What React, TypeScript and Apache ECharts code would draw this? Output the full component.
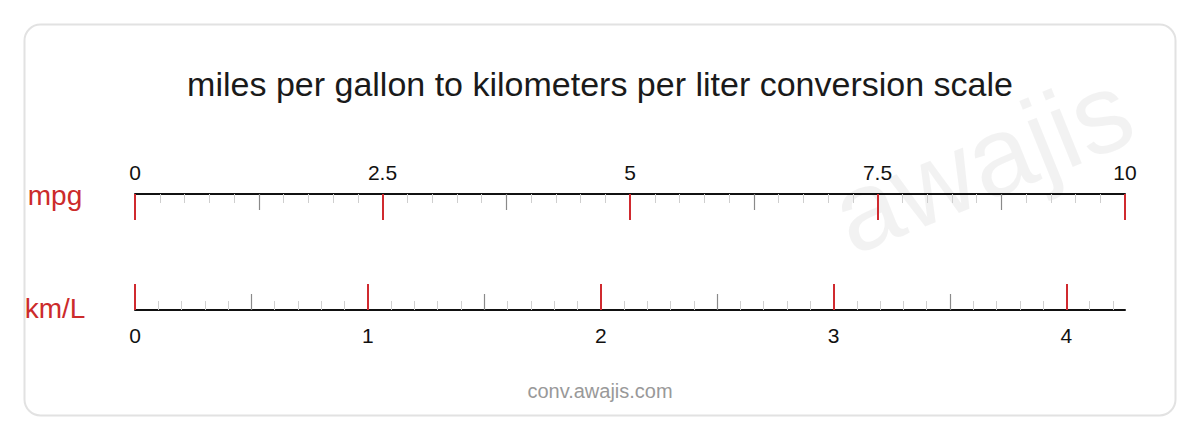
import { useEffect, useRef } from "react";
import * as echarts from "echarts";

const MPG_MAX = 10;
const MPG_TO_KML = 0.425144;
const MPG_MAJOR = [0, 2.5, 5, 7.5, 10];
const MPG_MID = [1.25, 3.75, 6.25, 8.75];
const MPG_MINOR_STEP = 0.25;
const KML_MAJOR = [0, 1, 2, 3, 4];
const KML_MID = [0.5, 1.5, 2.5, 3.5];
const KML_MINOR_STEP = 0.1;
const UNIT_LABELS = ["mpg", "km/L"];
const TITLE = "miles per gallon to kilometers per liter conversion scale";
const FOOTER = "conv.awajis.com";
const WATERMARK = "awajis";

const FONT = "'Liberation Sans', Helvetica, Arial, sans-serif";
const RED = "#d02a2f";

function minorTicks(max: number, step: number, skip: number[]): number[] {
  const out: number[] = [];
  const count = Math.floor(max / step + 1e-6);
  for (let i = 0; i <= count; i++) {
    const v = Math.round(i * step * 1000) / 1000;
    if (!skip.some((s) => Math.abs(s - v) < 1e-6)) {
      out.push(v);
    }
  }
  return out;
}

function tickAxis(
  position: "top" | "bottom",
  max: number,
  ticks: number[],
  length: number,
  color: string,
  width: number,
  showLine: boolean,
  labels?: number[],
  labelMargin?: number,
) {
  return {
    type: "value" as const,
    gridIndex: 0,
    position,
    min: 0,
    max,
    axisLine: {
      show: showLine,
      onZero: false,
      lineStyle: { color: "#111111", width: 2 },
    },
    axisTick: {
      show: true,
      inside: true,
      length,
      customValues: ticks,
      lineStyle: { color, width },
    },
    axisLabel: labels
      ? {
          show: true,
          customValues: labels,
          margin: labelMargin,
          fontSize: 21,
          color: "#111111",
          fontFamily: FONT,
        }
      : { show: false },
    splitLine: { show: false },
  };
}

export default function App() {
  const containerRef = useRef<HTMLDivElement | null>(null);

  useEffect(() => {
    if (!containerRef.current) {
      return;
    }

    const chart = echarts.init(containerRef.current, undefined, { renderer: "svg" });
    const kmlMax = MPG_MAX * MPG_TO_KML;

    const option = {
      animation: false,
      backgroundColor: "#ffffff",
      title: {
        text: TITLE,
        left: "center",
        top: 62,
        textStyle: {
          fontSize: 34,
          fontWeight: "normal",
          color: "#1a1a1a",
          fontFamily: FONT,
        },
      },
      grid: {
        left: 135,
        right: 75,
        top: 194,
        height: 116,
      },
      yAxis: { type: "value", gridIndex: 0, show: false, min: 0, max: 1 },
      xAxis: [
        tickAxis("top", MPG_MAX, minorTicks(MPG_MAX, MPG_MINOR_STEP, [...MPG_MAJOR, ...MPG_MID]), 9, "#cfcfcf", 1, false),
        tickAxis("top", MPG_MAX, MPG_MID, 16, "#8a8a8a", 1.2, false),
        tickAxis("top", MPG_MAX, MPG_MAJOR, 26, RED, 2, true, MPG_MAJOR, 11),
        tickAxis("bottom", kmlMax, minorTicks(kmlMax, KML_MINOR_STEP, [...KML_MAJOR, ...KML_MID]), 9, "#cfcfcf", 1, false),
        tickAxis("bottom", kmlMax, KML_MID, 16, "#8a8a8a", 1.2, false),
        tickAxis("bottom", kmlMax, KML_MAJOR, 26, RED, 2, true, KML_MAJOR, 15),
      ],
      series: [],
      graphic: [
        {
          type: "rect",
          z: -10,
          silent: true,
          shape: { x: 24.5, y: 24.5, width: 1151, height: 391, r: 16 },
          style: { fill: "#ffffff", stroke: "#e2e2e2", lineWidth: 2 },
        },
        {
          type: "text",
          z: -5,
          silent: true,
          x: 982,
          y: 162,
          rotation: (22 * Math.PI) / 180,
          style: {
            text: WATERMARK,
            fontSize: 112,
            fontFamily: FONT,
            fill: "rgba(0,0,0,0.05)",
            align: "center",
            verticalAlign: "middle",
          },
        },
        ...UNIT_LABELS.map((label, i) => ({
          type: "text",
          silent: true,
          x: 55,
          y: i === 0 ? 195 : 308,
          style: {
            text: label,
            fontSize: 28,
            fontFamily: FONT,
            fill: "#cc2b2b",
            align: "center",
            verticalAlign: "middle",
          },
        })),
        {
          type: "text",
          silent: true,
          x: 600,
          y: 391,
          style: {
            text: FOOTER,
            fontSize: 20,
            fontFamily: FONT,
            fill: "#999999",
            align: "center",
            verticalAlign: "middle",
          },
        },
      ],
    };

    chart.setOption(option as echarts.EChartsOption);

    return () => {
      chart.dispose();
    };
  }, []);

  return (
    <div
      ref={containerRef}
      style={{ position: "absolute", left: 0, top: 0, width: 1200, height: 440 }}
    />
  );
}
